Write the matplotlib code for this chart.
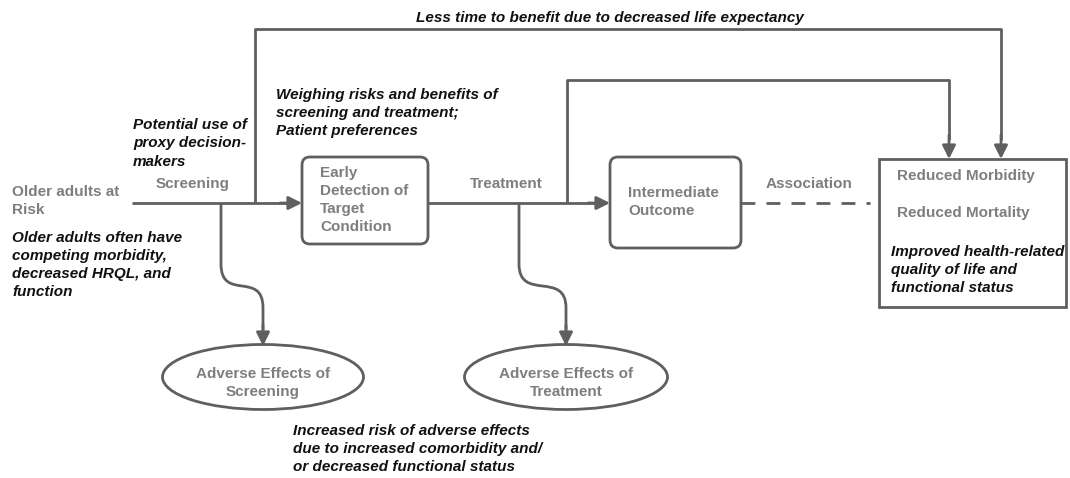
import matplotlib
matplotlib.use("Agg")
import matplotlib.pyplot as plt
from matplotlib.patches import FancyBboxPatch, Rectangle, Ellipse, PathPatch, FancyArrowPatch
from matplotlib.path import Path

# ---- diagram content ----
top_note = "Less time to benefit due to decreased life expectancy"
weigh_note = "Weighing risks and benefits of\nscreening and treatment;\nPatient preferences"
proxy_note = "Potential use of\nproxy decision-\nmakers"
population = "Older adults at\nRisk"
population_note = "Older adults often have\ncompeting morbidity,\ndecreased HRQL, and\nfunction"
step_labels = ["Screening", "Treatment", "Association"]
box_labels = ["Early\nDetection of\nTarget\nCondition", "Intermediate\nOutcome"]
outcome_labels = ["Reduced Morbidity", "Reduced Mortality"]
outcome_note = "Improved health-related\nquality of life and\nfunctional status"
adverse_labels = ["Adverse Effects of\nScreening", "Adverse Effects of\nTreatment"]
adverse_note = "Increased risk of adverse effects\ndue to increased comorbidity and/\nor decreased functional status"

LINE = "#5f5f5f"
GRAY = "#7e7e7e"
BLACK = "#111111"
FONT = "Liberation Sans"
FS = 11
LW = 2.0

fig = plt.figure(figsize=(10.70, 4.78), dpi=100)
ax = fig.add_axes([0, 0, 1, 1])
ax.set_xlim(0, 1070)
ax.set_ylim(478, 0)
ax.axis("off")

def gtext(x, y, s, ha="left", va="center", ls=1.37):
    ax.text(x, y, s, color=GRAY, fontsize=FS, fontweight="bold", family=FONT,
            ha=ha, va=va, linespacing=ls)

def btext(x, y, s, ha="left", va="center", ls=1.39):
    ax.text(x, y, s, color=BLACK, fontsize=FS, fontweight="bold", style="italic",
            family=FONT, ha=ha, va=va, linespacing=ls)

def line(xs, ys, **kw):
    ax.plot(xs, ys, color=LINE, lw=LW, solid_capstyle="butt", **kw)

def arrow(x0, y0, x1, y1):
    ax.add_patch(FancyArrowPatch((x0, y0), (x1, y1), arrowstyle="-|>",
                                 mutation_scale=20, color=LINE, lw=LW,
                                 shrinkA=0, shrinkB=0))

MAIN_Y = 203

# main flow
line([132, 290], [MAIN_Y, MAIN_Y])
arrow(280, MAIN_Y, 302, MAIN_Y)
line([428, 598], [MAIN_Y, MAIN_Y])
arrow(588, MAIN_Y, 610, MAIN_Y)
line([741, 870], [MAIN_Y, MAIN_Y], linestyle=(0, (5, 4)))

# top loops
line([255, 255, 1001, 1001], [MAIN_Y, 29, 29, 140])
arrow(1001, 135, 1001, 159)
line([567, 567, 949, 949], [MAIN_Y, 80, 80, 140])
arrow(949, 135, 949, 159)

# boxes
ax.add_patch(FancyBboxPatch((302 + 8, 157 + 8), 126 - 16, 87 - 16,
                            boxstyle="round,pad=8", fc="white", ec=LINE, lw=LW))
ax.add_patch(FancyBboxPatch((610 + 8, 157 + 8), 131 - 16, 91 - 16,
                            boxstyle="round,pad=8", fc="white", ec=LINE, lw=LW))
ax.add_patch(Rectangle((879, 159), 187, 148, fc="white", ec=LINE, lw=LW))

# curvy branches to adverse effects
def branch(x0, x1):
    verts = [(x0, MAIN_Y), (x0, 264), (x0, 302), (x1, 270), (x1, 308), (x1, 330)]
    codes = [Path.MOVETO, Path.LINETO, Path.CURVE4, Path.CURVE4, Path.CURVE4, Path.LINETO]
    ax.add_patch(PathPatch(Path(verts, codes), fc="none", ec=LINE, lw=LW))
    arrow(x1, 325, x1, 346)

branch(221, 263)
branch(519, 566)

ax.add_patch(Ellipse((263, 377), 201, 65, fc="white", ec=LINE, lw=LW))
ax.add_patch(Ellipse((566, 377), 203, 65, fc="white", ec=LINE, lw=LW))

# texts
btext(610, 18, top_note, ha="center")
btext(276, 113, weigh_note)
btext(133, 143.5, proxy_note)
gtext(12, 201, population)
btext(12, 265, population_note)
gtext(193, 184, step_labels[0], ha="center")
gtext(506, 184, step_labels[1], ha="center")
gtext(809, 184, step_labels[2], ha="center")
gtext(320, 200, box_labels[0])
gtext(628, 202, box_labels[1])
gtext(897, 176, outcome_labels[0])
gtext(897, 213, outcome_labels[1])
btext(891, 270, outcome_note)
gtext(263, 383, adverse_labels[0], ha="center")
gtext(566, 383, adverse_labels[1], ha="center")
btext(293, 449, adverse_note)

fig.savefig("out.png", dpi=100)
